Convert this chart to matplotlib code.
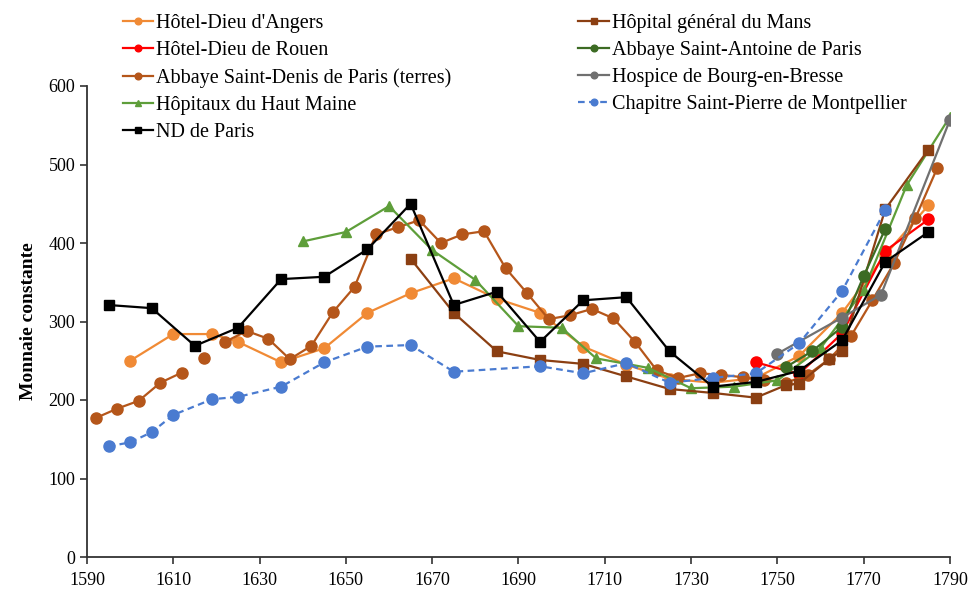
import numpy as np
import matplotlib
matplotlib.use("Agg")
import matplotlib.pyplot as plt

nan = np.nan

# ---- data ----
angers_years = [1600, 1610, 1619, 1625, 1635, 1645, 1655, 1665, 1675, 1685, 1695, 1705, 1715, 1725, 1735, 1745, 1755, 1765, 1775, 1785]
angers_vals  = [250, 284, 284, 274, 248, 266, 311, 336, 355, 329, 311, 268, 245, 227, 222, 228, 256, 311, 385, 448]

mans_years = [1665, 1675, 1685, 1695, 1705, 1715, 1725, 1735, 1745, 1752, 1755, 1762, 1765, 1775, 1785]
mans_vals  = [380, 311, 262, 251, 246, 230, 214, 209, 203, 219, 221, 252, 263, 443, 519]

rouen_years = [1745, 1755, 1765, 1775, 1785]
rouen_vals  = [248, 233, 285, 390, 430]

antoine_years = [1752, 1758, 1765, 1770, 1775]
antoine_vals  = [242, 262, 293, 358, 418]

denis_years = [1592, 1597, 1602, 1607, 1612, 1614, 1617, 1619, 1622, 1627, 1632, 1637, 1642, 1647, 1652, 1657,
               1662, 1667, 1672, 1677, 1682, 1687, 1692, 1697, 1702, 1707, 1712, 1717, 1722, 1727,
               1732, 1737, 1742, 1747, 1752, 1757, 1762, 1767, 1772, 1777, 1782, 1787]
denis_vals  = [177, 189, 199, 222, 235, nan, 253, nan, 274, 288, 278, 252, 269, 312, 344, 411,
               420, 429, 400, 411, 415, 368, 336, 303, 308, 316, 304, 274, 238, 228,
               234, 232, 229, 226, 222, 232, 252, 281, 327, 374, 432, 495]

bourg_years = [1750, 1765, 1774, 1790]
bourg_vals  = [259, 305, 334, 557]

hautmaine_years = [1640, 1650, 1660, 1670, 1680, 1690, 1700, 1708, 1720, 1730, 1740, 1750, 1760, 1770, 1780, 1790]
hautmaine_vals  = [402, 414, 447, 391, 353, 294, 292, 253, 241, 215, 217, 225, 266, 340, 474, 561]

montp_years = [1595, 1600, 1605, 1610, 1619, 1625, 1635, 1645, 1655, 1665, 1675, 1695, 1705, 1715, 1725, 1735, 1745, 1755, 1765, 1775]
montp_vals  = [141, 146, 159, 181, 201, 204, 217, 248, 268, 270, 236, 243, 234, 247, 222, 228, 234, 272, 339, 442]

nd_years = [1595, 1605, 1615, 1625, 1635, 1645, 1655, 1665, 1675, 1685, 1695, 1705, 1715, 1725, 1735, 1745, 1755, 1765, 1775, 1785]
nd_vals  = [321, 317, 269, 292, 354, 357, 392, 450, 321, 338, 274, 327, 331, 262, 217, 223, 237, 276, 376, 414]

x_ticks = [1590, 1610, 1630, 1650, 1670, 1690, 1710, 1730, 1750, 1770, 1790]
y_ticks = [0, 100, 200, 300, 400, 500, 600]

plt.rcParams['font.family'] = ['Liberation Serif', 'DejaVu Serif']

fig = plt.figure(figsize=(9.71, 5.90), dpi=100)
ax = fig.add_axes([87/971, 1-557/590, (950-87)/971, (557-86)/590])

lw = 1.6
ms = 8
series = {}
series['angers'] = ax.plot(angers_years, angers_vals, color='#F08a35', marker='o', ms=ms, lw=lw, label="Hôtel-Dieu d'Angers")[0]
series['rouen'] = ax.plot(rouen_years, rouen_vals, color='#FF0000', marker='o', ms=ms, lw=lw, label="Hôtel-Dieu de Rouen")[0]
series['denis'] = ax.plot(denis_years, denis_vals, color='#B5561A', marker='o', ms=ms, lw=lw, label="Abbaye Saint-Denis de Paris (terres)")[0]
series['hm'] = ax.plot(hautmaine_years, hautmaine_vals, color='#5E9E3A', marker='^', ms=7.5, lw=lw, label="Hôpitaux du Haut Maine")[0]
series['mans'] = ax.plot(mans_years, mans_vals, color='#8B3F12', marker='s', ms=7.5, lw=lw, label="Hôpital général du Mans")[0]
series['antoine'] = ax.plot(antoine_years, antoine_vals, color='#3C6B23', marker='o', ms=ms, lw=lw, label="Abbaye Saint-Antoine de Paris")[0]
series['bourg'] = ax.plot(bourg_years, bourg_vals, color='#707070', marker='o', ms=ms, lw=lw, label="Hospice de Bourg-en-Bresse")[0]
series['montp'] = ax.plot(montp_years, montp_vals, color='#4A7BD0', marker='o', ms=ms, lw=lw, ls=(0, (3, 2)), label="Chapitre Saint-Pierre de Montpellier")[0]
series['nd'] = ax.plot(nd_years, nd_vals, color='#000000', marker='s', ms=7, lw=lw, label="ND de Paris")[0]

ax.set_xlim(1590, 1790)
ax.set_ylim(0, 600)
ax.set_xticks(x_ticks)
ax.set_yticks(y_ticks)
ax.tick_params(axis='both', labelsize=13, color='#333333', length=5, width=1.2, direction='out')
ax.tick_params(axis='x', pad=6)
for s in ['top', 'right']:
    ax.spines[s].set_visible(False)
for s in ['left', 'bottom']:
    ax.spines[s].set_color('#333333')
    ax.spines[s].set_linewidth(1.3)
ax.set_ylabel('Monnaie constante', fontsize=14, fontweight='bold', labelpad=8)

order = ['angers', 'rouen', 'denis', 'hm', 'nd', 'mans', 'antoine', 'bourg', 'montp']
handles = [series[k] for k in order]
leg = fig.legend(handles, [h.get_label() for h in handles], ncol=2, loc='upper left',
                 bbox_to_anchor=(105/971, 1+4/590), frameon=False, fontsize=14.5,
                 markerscale=0.6, handlelength=1.5, handletextpad=0.15,
                 columnspacing=6.3, labelspacing=0.39)

fig.savefig('out.png', dpi=100)
